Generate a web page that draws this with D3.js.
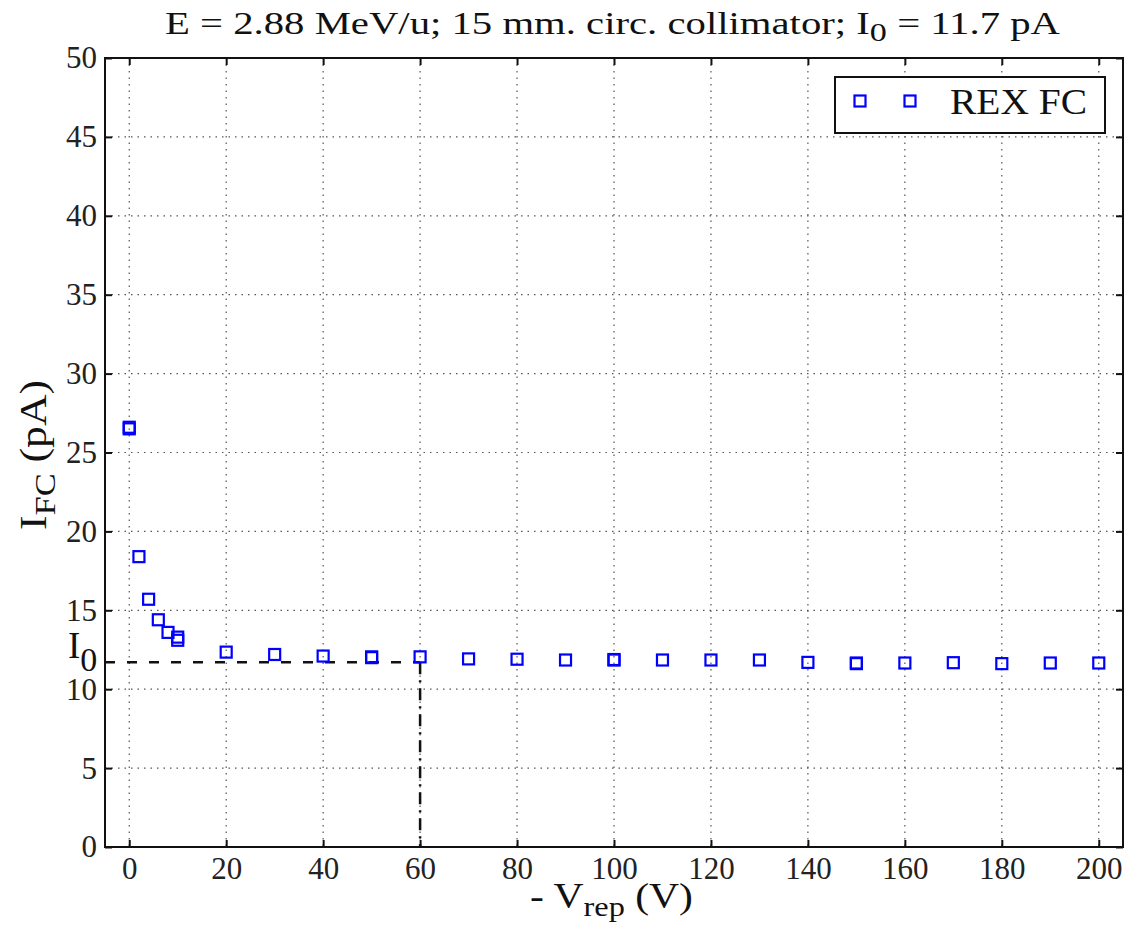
<!DOCTYPE html>
<html>
<head>
<meta charset="utf-8">
<script src="https://cdn.jsdelivr.net/npm/d3@7"></script>
<style>
  body { margin: 0; background: #fff; }
  svg text { font-family: "Liberation Serif", "DejaVu Serif", serif; fill: #111; }
</style>
</head>
<body>
<div id="chart"></div>
<script>
// measured values
var voltages = [0, 0, 2, 4, 6, 8, 10, 10, 20, 30, 40, 50, 50, 60, 70, 80, 90, 100, 100,
                110, 120, 130, 140, 150, 150, 160, 170, 180, 190, 200];
var currents = [26.5, 26.6, 18.4, 15.7, 14.4, 13.6, 13.1, 13.3, 12.35, 12.2, 12.1, 12.0, 12.05,
                12.05, 11.92, 11.9, 11.85, 11.85, 11.88, 11.85, 11.85, 11.85, 11.7, 11.62, 11.66,
                11.66, 11.68, 11.62, 11.66, 11.66];
var xTicks = [0, 20, 40, 60, 80, 100, 120, 140, 160, 180, 200];
var yTicks = [0, 5, 10, 15, 20, 25, 30, 35, 40, 45, 50];
var i0 = 11.7;
var i0Voltage = 60;

function init()
{
  var width = 1137, height = 926;
  var left = 105, right = 1123, top = 58, bottom = 847;

  var svg = d3.select("#chart")
    .append("svg")
    .attr("width", width)
    .attr("height", height);

  var xScale = d3.scaleLinear().domain([-5, 205]).range([left, right]);
  var yScale = d3.scaleLinear().domain([0, 50]).range([bottom, top]);

  // grid
  var grid = svg.append("g").attr("class", "grid");
  grid.selectAll(".gx")
    .data(xTicks)
    .enter()
    .append("line")
      .attr("x1", function(d) {return xScale(d);})
      .attr("x2", function(d) {return xScale(d);})
      .attr("y1", top)
      .attr("y2", bottom)
      .style("stroke", "#555")
      .style("stroke-width", 1.2)
      .style("stroke-dasharray", "1.5,5");
  grid.selectAll(".gy")
    .data(yTicks)
    .enter()
    .append("line")
      .attr("x1", left)
      .attr("x2", right)
      .attr("y1", function(d) {return yScale(d);})
      .attr("y2", function(d) {return yScale(d);})
      .style("stroke", "#555")
      .style("stroke-width", 1.2)
      .style("stroke-dasharray", "1.5,5");

  // axes, ticks pointing inward
  var xAxis = d3.axisBottom(xScale).tickValues(xTicks).tickSize(-7).tickPadding(10);
  var yAxis = d3.axisLeft(yScale).tickValues(yTicks).tickSize(-7).tickPadding(8);
  var xTop = d3.axisTop(xScale).tickValues(xTicks).tickSize(-7).tickFormat("");
  var yRight = d3.axisRight(yScale).tickValues(yTicks).tickSize(-7).tickFormat("");

  var gx = svg.append("g").attr("transform", "translate(0," + bottom + ")").call(xAxis);
  var gy = svg.append("g").attr("transform", "translate(" + left + ",0)").call(yAxis);
  var gt = svg.append("g").attr("transform", "translate(0," + top + ")").call(xTop);
  var gr = svg.append("g").attr("transform", "translate(" + right + ",0)").call(yRight);

  [gx, gy, gt, gr].forEach(function(g) {
    g.select(".domain").remove();
    g.selectAll(".tick line").style("stroke", "#111").style("stroke-width", 2);
    g.selectAll(".tick text")
      .style("font-family", "Liberation Serif")
      .style("font-size", "31px")
      .style("fill", "#222");
  });
  gx.selectAll(".tick text").attr("dy", "0.72em");

  // I0 reference lines
  svg.append("line")
    .attr("x1", left)
    .attr("x2", xScale(i0Voltage))
    .attr("y1", yScale(i0))
    .attr("y2", yScale(i0))
    .style("stroke", "#111")
    .style("stroke-width", 2.5)
    .style("stroke-dasharray", "10,12");
  svg.append("line")
    .attr("x1", xScale(i0Voltage))
    .attr("x2", xScale(i0Voltage))
    .attr("y1", yScale(i0))
    .attr("y2", bottom)
    .style("stroke", "#111")
    .style("stroke-width", 2.5)
    .style("stroke-dasharray", "12,6,2,6");

  // frame
  svg.append("rect")
    .attr("x", left)
    .attr("y", top)
    .attr("width", right - left)
    .attr("height", bottom - top)
    .style("fill", "none")
    .style("stroke", "#111")
    .style("stroke-width", 2);

  // data markers
  var s = 11;
  svg.selectAll(".pt")
    .data(voltages)
    .enter()
    .append("rect")
      .attr("x", function(d) {return xScale(d) - s / 2;})
      .attr("y", function(d, i) {return yScale(currents[i]) - s / 2;})
      .attr("width", s)
      .attr("height", s)
      .style("fill", "none")
      .style("stroke", "#0000ff")
      .style("stroke-width", 2.2);

  // legend
  var legend = svg.append("g");
  legend.append("rect")
    .attr("x", 835)
    .attr("y", 77)
    .attr("width", 270)
    .attr("height", 56)
    .style("fill", "#fff")
    .style("stroke", "#111")
    .style("stroke-width", 2);
  [860, 910].forEach(function(cx) {
    legend.append("rect")
      .attr("x", cx - s / 2)
      .attr("y", 101 - s / 2)
      .attr("width", s)
      .attr("height", s)
      .style("fill", "none")
      .style("stroke", "#0000ff")
      .style("stroke-width", 2.2);
  });
  legend.append("text")
    .attr("x", 950)
    .attr("y", 114)
    .attr("textLength", 137)
    .attr("lengthAdjust", "spacingAndGlyphs")
    .style("font-size", "35px")
    .text("REX FC");

  // I0 label at the left axis
  var i0Label = svg.append("text")
    .attr("x", 68)
    .attr("y", yScale(i0) - 4)
    .style("font-size", "37px");
  i0Label.append("tspan").text("I");
  i0Label.append("tspan").attr("dy", 13).style("font-size", "34px").text("0");

  // title
  var title = svg.append("text")
    .attr("x", 165)
    .attr("y", 34)
    .attr("textLength", 895)
    .attr("lengthAdjust", "spacingAndGlyphs")
    .style("font-size", "31px");
  title.append("tspan").text("E = 2.88 MeV/u; 15 mm. circ. collimator; I");
  title.append("tspan").attr("dy", 7).style("font-size", "26px").text("0");
  title.append("tspan").attr("dy", -7).text(" = 11.7 pA");

  // x label
  var xLabel = svg.append("text")
    .attr("x", 530)
    .attr("y", 908)
    .attr("textLength", 163)
    .attr("lengthAdjust", "spacingAndGlyphs")
    .style("font-size", "36px");
  xLabel.append("tspan").text("- V");
  xLabel.append("tspan").attr("dy", 8).style("font-size", "28px").text("rep");
  xLabel.append("tspan").attr("dy", -8).text(" (V)");

  // y label
  var yLabel = svg.append("text")
    .attr("transform", "translate(46," + 530 + ") rotate(-90)")
    .attr("textLength", 150)
    .attr("lengthAdjust", "spacingAndGlyphs")
    .style("font-size", "38px");
  yLabel.append("tspan").text("I");
  yLabel.append("tspan").attr("dy", 9).style("font-size", "30px").text("FC");
  yLabel.append("tspan").attr("dy", -9).text(" (pA)");
}

window.onload = init();
</script>
</body>
</html>
